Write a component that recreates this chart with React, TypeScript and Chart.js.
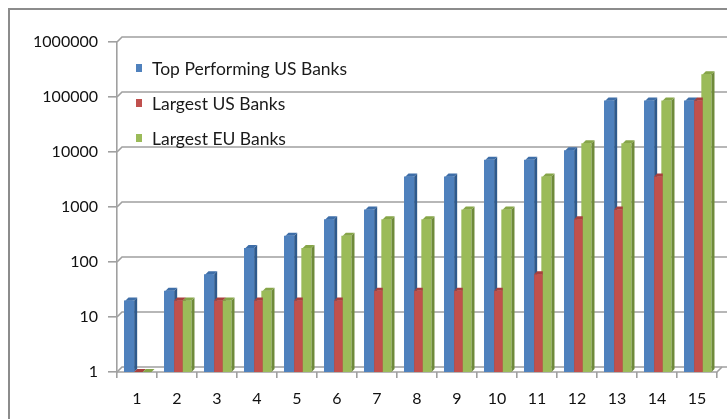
import React, { useEffect, useRef } from "react";
import { Chart, registerables } from "chart.js";

Chart.register(...registerables);

const categories = ["1", "2", "3", "4", "5", "6", "7", "8", "9", "10", "11", "12", "13", "14", "15"];
const topPerformingUS = [20, 30, 60, 180, 300, 600, 900, 3600, 3600, 7200, 7200, 10800, 86400, 86400, 86400];
const largestUS = [1, 20, 20, 20, 20, 20, 30, 30, 30, 30, 60, 600, 900, 3600, 86400];
const largestEU = [1, 20, 20, 30, 180, 300, 600, 600, 900, 900, 3600, 14400, 14400, 86400, 259200];
const yTicks = [1, 10, 100, 1000, 10000, 100000, 1000000];
const seriesNames = ["Top Performing US Banks", "Largest US Banks", "Largest EU Banks"];
const frontColors = ["#4F81BD", "#C0504D", "#9BBB59"];
const sideColors = ["#2F5A8C", "#8E3532", "#6F8A3A"];
const topColors = ["#3E6EA8", "#A8403D", "#86A548"];

const FONT = "Lato, 'Open Sans', sans-serif";
const GRID = "#a0a0a0";
const DEPTH = 5;

// back-wall gridlines with a 3D offset
const wall3d = {
  id: "wall3d",
  beforeDatasetsDraw(chart: any) {
    const { ctx, chartArea } = chart;
    const ys = chart.scales.y;
    ctx.save();
    ctx.strokeStyle = GRID;
    ctx.lineWidth = 1.6;
    ys.ticks.forEach((t: any) => {
      const y = ys.getPixelForValue(t.value);
      ctx.beginPath();
      ctx.moveTo(chartArea.left, y);
      ctx.lineTo(chartArea.left + DEPTH, y - DEPTH);
      ctx.lineTo(chart.width, y - DEPTH);
      ctx.stroke();
    });
    // floor front edge
    ctx.beginPath();
    ctx.moveTo(chartArea.left, chartArea.bottom);
    ctx.lineTo(chartArea.right, chartArea.bottom);
    ctx.lineTo(chartArea.right + DEPTH, chartArea.bottom - DEPTH);
    ctx.stroke();
    ctx.restore();
  },
};

const bars3d = {
  id: "bars3d",
  afterDatasetsDraw(chart: any) {
    const ctx = chart.ctx;
    const d = 3;
    const n = chart.data.labels.length;
    ctx.save();
    for (let i = 0; i < n; i++) {
      chart.data.datasets.forEach((_: any, di: number) => {
        const meta = chart.getDatasetMeta(di);
        const el: any = meta.data[i];
        if (!el) return;
        const { x, y, base, width } = el.getProps(["x", "y", "base", "width"], true);
        const l = x - width / 2 + 1.5;
        const r = x + width / 2 + 1.5;
        ctx.fillStyle = frontColors[di];
        ctx.fillRect(l, y, r - l, base - y);
        ctx.fillStyle = sideColors[di];
        ctx.beginPath();
        ctx.moveTo(r, y);
        ctx.lineTo(r + d, y - d);
        ctx.lineTo(r + d, base - d);
        ctx.lineTo(r, base);
        ctx.closePath();
        ctx.fill();
        ctx.fillStyle = topColors[di];
        ctx.beginPath();
        ctx.moveTo(l, y);
        ctx.lineTo(l + d, y - d);
        ctx.lineTo(r + d, y - d);
        ctx.lineTo(r, y);
        ctx.closePath();
        ctx.fill();
      });
    }
    ctx.restore();
  },
};

const legendInArea = {
  id: "legendInArea",
  afterDraw(chart: any) {
    const { ctx, chartArea } = chart;
    ctx.save();
    ctx.font = `17.5px ${FONT}`;
    ctx.textBaseline = "middle";
    ctx.textAlign = "left";
    chart.data.datasets.forEach((ds: any, i: number) => {
      const cy = chartArea.top + 26 + i * 35;
      const bx = chartArea.left + 19;
      ctx.fillStyle = frontColors[i];
      ctx.fillRect(bx, cy - 4, 6, 8);
      ctx.fillStyle = "#1a1a1a";
      ctx.fillText(ds.label, bx + 16, cy + 1);
    });
    ctx.restore();
  },
};

export default function App() {
  const ref = useRef<HTMLCanvasElement | null>(null);
  useEffect(() => {
    if (!ref.current) return;
    const seriesData = [topPerformingUS, largestUS, largestEU];
    const chart = new Chart(ref.current, {
      type: "bar",
      data: {
        labels: categories,
        datasets: seriesNames.map((name, i) => ({
          label: name,
          data: seriesData[i],
          backgroundColor: frontColors[i],
          borderWidth: 0,
          categoryPercentage: 0.65,
          barPercentage: 1.0,
        })),
      },
      options: {
        animation: false,
        responsive: false,
        maintainAspectRatio: false,
        layout: { padding: { left: 0, right: 10, top: 42, bottom: 0 } },
        plugins: {
          legend: { display: false },
          tooltip: { enabled: false },
        },
        scales: {
          x: {
            grid: { display: true, drawOnChartArea: false, drawTicks: true, tickLength: 6, color: GRID, lineWidth: 1.6 },
            border: { display: false },
            ticks: { color: "#111", font: { family: FONT, size: 16 }, padding: 11, maxRotation: 0 },
            afterFit: (s: any) => { s.height = 47; },
          },
          y: {
            type: "logarithmic",
            min: 1,
            max: 1000000,
            afterBuildTicks: (s: any) => { s.ticks = yTicks.map((v) => ({ value: v })); },
            grid: { drawOnChartArea: false, color: GRID, lineWidth: 1.6, tickLength: 9 },
            border: { display: true, color: GRID, width: 1.6 },
            ticks: {
              color: "#111",
              font: { family: FONT, size: 16 },
              padding: 10,
              callback: (v: any) => String(v),
            },
            afterFit: (s: any) => { s.width = 117; },
          },
        },
      },
      plugins: [wall3d, bars3d, legendInArea],
    });
    return () => chart.destroy();
  }, []);

  return (
    <div style={{ position: "fixed", left: 0, top: 0, width: 727, height: 419, background: "#fff", overflow: "hidden" }}>
      <div style={{ position: "absolute", left: 8, top: 8, width: 740, height: 440, border: "2px solid #8c8c8c", boxSizing: "border-box" }} />
      <canvas ref={ref} width={727} height={419} style={{ position: "absolute", left: 0, top: 0, width: 727, height: 419 }} />
    </div>
  );
}
